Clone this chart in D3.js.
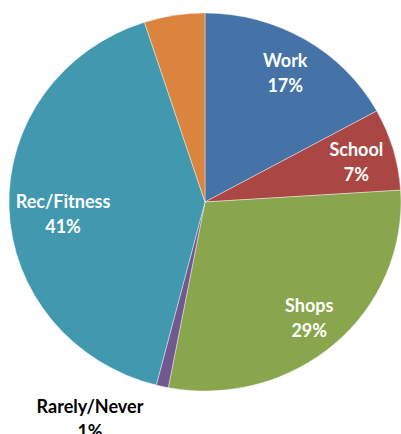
<!DOCTYPE html>
<html>
<head>
<meta charset="utf-8">
<script src="https://cdn.jsdelivr.net/npm/d3@7"></script>
<style>
  body { margin: 0; background: #fff; }
  text { font-family: Lato, "Open Sans", sans-serif; font-weight: bold; }
</style>
</head>
<body>
<div class="chart"></div>
<script>
var svgWidth = 401;
var svgHeight = 434;

// slice data, clockwise from 12 o'clock
var categories = ["Work", "School", "Shops", "Rarely/Never", "Rec/Fitness", "Other"];
var values = [17, 7, 29, 1, 41, 5];
var labels = ["17%", "7%", "29%", "1%", "41%", ""];
var colors = ["#4572A7", "#AA4643", "#89A54E", "#71588F", "#4198AF", "#DB843D"];

var cx = 205, cy = 202;
var rx = 196, ry = 189;

var svg = d3.select(".chart")
  .append("svg")
  .attr("width", svgWidth)
  .attr("height", svgHeight);

// pie is drawn as a circle of radius ry and stretched in x
var pieGroup = svg.append("g")
  .attr("transform", `translate(${cx}, ${cy}) scale(${rx / ry}, 1)`);

var pie = d3.pie().sort(null).value(d => d);
var arcs = pie(values);

var arc = d3.arc().innerRadius(0).outerRadius(ry);

pieGroup.selectAll("path")
  .data(arcs)
  .enter()
  .append("path")
  .attr("d", arc)
  .attr("fill", (d, i) => colors[i])
  .attr("stroke", "#fff")
  .attr("stroke-width", 0.4);

// labels inside the slices (not for the tiny ones)
var labelGroup = svg.append("g")
  .attr("transform", `translate(${cx}, ${cy})`);

arcs.forEach(function(d, i) {
  if (!labels[i]) return;
  var x, y, fill;
  if (categories[i] === "Rarely/Never") {
    // outside label below the pie
    x = -115; y = 211; fill = "#000";
  } else {
    var rec = categories[i] === "Rec/Fitness";
    var r = rec ? 137 : 152;
    var c = d3.arc().innerRadius(r).outerRadius(r).centroid(d);
    x = c[0] * rx / ry; y = c[1] - 4 + (rec ? 6 : 0); fill = "#fff";
  }
  var t = labelGroup.append("text")
    .attr("text-anchor", "middle")
    .attr("font-size", "18px")
    .attr("fill", fill);
  t.append("tspan").attr("x", x).attr("y", y).text(categories[i]);
  t.append("tspan").attr("x", x).attr("y", y + 25).text(labels[i]);
});
</script>
</body>
</html>
